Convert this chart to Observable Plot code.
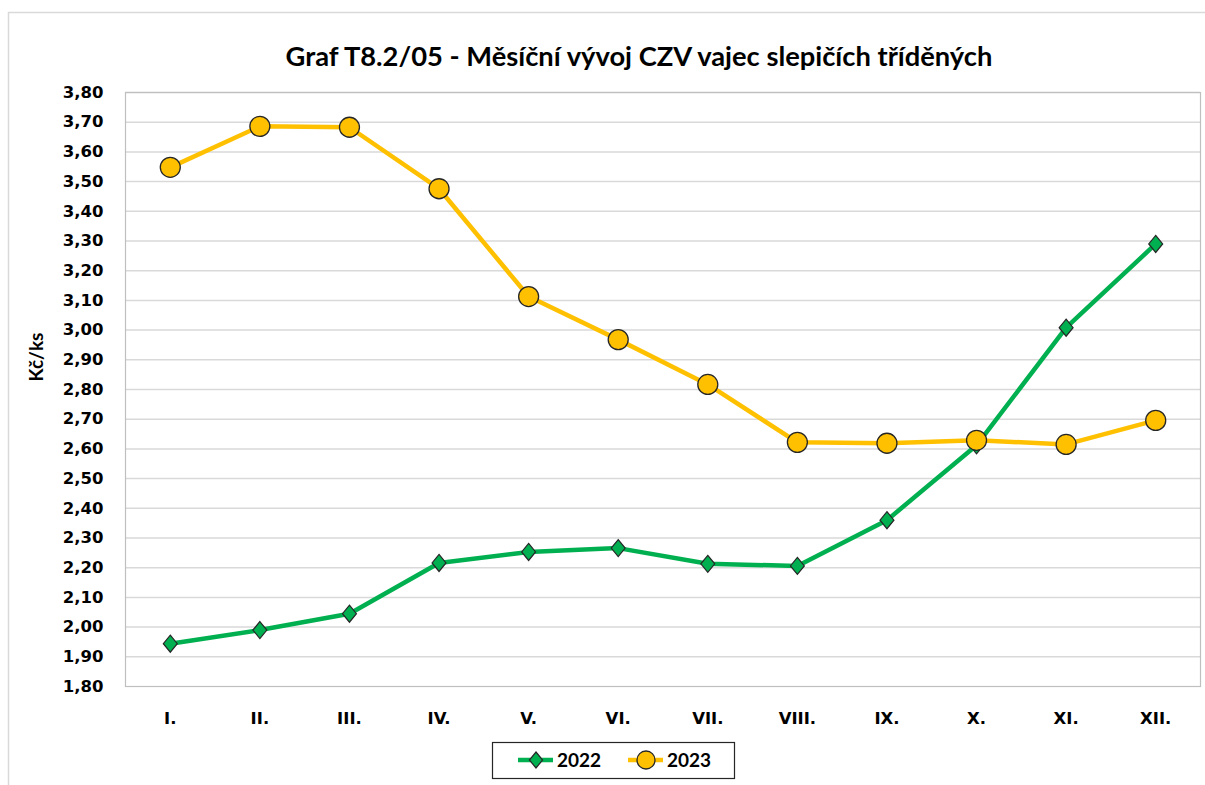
<!DOCTYPE html>
<html>
<head>
<meta charset="utf-8">
<script src="https://cdn.jsdelivr.net/npm/d3@7"></script>
<script src="https://cdn.jsdelivr.net/npm/@observablehq/plot@0.6"></script>
<style>
  html, body { margin: 0; padding: 0; background: #fff; }
  #wrap { position: relative; width: 1205px; height: 785px; overflow: hidden; }
  #wrap > svg { position: absolute; left: 0; top: 0; }
  #overlay { pointer-events: none; }
</style>
</head>
<body>
<div id="wrap"></div>
<script>
const months = ["I.", "II.", "III.", "IV.", "V.", "VI.", "VII.", "VIII.", "IX.", "X.", "XI.", "XII."];
const values2022 = [1.944, 1.99, 2.045, 2.216, 2.253, 2.266, 2.213, 2.206, 2.36, 2.612, 3.008, 3.29];
const values2023 = [3.548, 3.686, 3.683, 3.476, 3.113, 2.968, 2.817, 2.622, 2.619, 2.629, 2.615, 2.696];
const yTicks = [1.8, 1.9, 2.0, 2.1, 2.2, 2.3, 2.4, 2.5, 2.6, 2.7, 2.8, 2.9, 3.0, 3.1, 3.2, 3.3, 3.4, 3.5, 3.6, 3.7, 3.8];
const seriesNames = ["2022", "2023"];
const titleText = "Graf T8.2/05 - Měsíční vývoj CZV vajec slepičích tříděných";
const yLabel = "Kč/ks";

const green = "#00b050", yellow = "#ffc000", outline = "#262626";

const d2022 = months.map((m, i) => ({month: m, value: values2022[i]}));
const d2023 = months.map((m, i) => ({month: m, value: values2023[i]}));

// diamond a bit taller than wide, like Excel's marker
const diamond = {
  draw(ctx, size) {
    const r = Math.sqrt(size / Math.PI);
    const hw = r * 0.82, hh = r;
    ctx.moveTo(0, -hh); ctx.lineTo(hw, 0); ctx.lineTo(0, hh); ctx.lineTo(-hw, 0); ctx.closePath();
  }
};

const fmt = d => d.toFixed(2).replace(".", ",");
const axisFont = {fontFamily: "DejaVu Sans", fontWeight: "bold", fontSize: 16.5, fill: "#000"};

const chart = Plot.plot({
  width: 1205,
  height: 785,
  marginLeft: 125,
  marginRight: 5,
  marginTop: 92,
  marginBottom: 99,
  style: {background: "transparent", fontFamily: "DejaVu Sans", overflow: "visible"},
  x: {type: "point", domain: months, padding: 0.5, round: false},
  y: {domain: [1.8, 3.8]},
  marks: [
    Plot.ruleY(yTicks.slice(1), {stroke: "#d9d9d9", strokeWidth: 1.5}),
    Plot.frame({stroke: "#bfbfbf", strokeWidth: 1.2}),
    Plot.axisY(yTicks, {tickSize: 0, tickPadding: 22, tickFormat: fmt, ...axisFont, label: null}),
    Plot.axisX(months, {tickSize: 0, tickPadding: 26, ...axisFont, label: null}),
    Plot.lineY(d2022, {x: "month", y: "value", stroke: green, strokeWidth: 4.5}),
    Plot.dot(d2022, {x: "month", y: "value", symbol: diamond, r: 8.5, fill: green, stroke: outline, strokeWidth: 1.2}),
    Plot.lineY(d2023, {x: "month", y: "value", stroke: yellow, strokeWidth: 4.5}),
    Plot.dot(d2023, {x: "month", y: "value", r: 10, fill: yellow, stroke: outline, strokeWidth: 1.3})
  ]
});
document.getElementById("wrap").appendChild(chart);

// overlay: outer border, title, y label, legend
const ns = "http://www.w3.org/2000/svg";
const ov = d3.select("#wrap").append("svg").attr("id", "overlay")
  .attr("width", 1205).attr("height", 785).attr("xmlns", ns);

ov.append("rect").attr("x", 8.5).attr("y", 12.5).attr("width", 1300).attr("height", 800)
  .attr("fill", "none").attr("stroke", "#d9d9d9").attr("stroke-width", 1.5);

ov.append("text").attr("x", 639).attr("y", 66).attr("text-anchor", "middle")
  .attr("font-family", "Lato").attr("font-weight", "bold").attr("font-size", 27.3).attr("fill", "#000")
  .text(titleText);

ov.append("text").attr("transform", "translate(43,357) rotate(-90)").attr("text-anchor", "middle")
  .attr("font-family", "Lato").attr("font-weight", "bold").attr("font-size", 19).attr("fill", "#000")
  .text(yLabel);

const lg = ov.append("g");
lg.append("rect").attr("x", 492.5).attr("y", 742.5).attr("width", 242).attr("height", 36)
  .attr("fill", "#fff").attr("stroke", "#262626").attr("stroke-width", 1.2);
const legendItems = [
  {name: seriesNames[0], color: green, x0: 518, shape: "diamond"},
  {name: seriesNames[1], color: yellow, x0: 628, shape: "circle"}
];
legendItems.forEach(it => {
  lg.append("line").attr("x1", it.x0).attr("x2", it.x0 + 35).attr("y1", 760).attr("y2", 760)
    .attr("stroke", it.color).attr("stroke-width", 4.5);
  if (it.shape === "diamond") {
    const cx = it.x0 + 18, cy = 760;
    lg.append("path").attr("d", `M${cx},${cy-8}L${cx+6.6},${cy}L${cx},${cy+8}L${cx-6.6},${cy}Z`)
      .attr("fill", it.color).attr("stroke", outline).attr("stroke-width", 1.2);
  } else {
    lg.append("circle").attr("cx", it.x0 + 18).attr("cy", 760).attr("r", 9)
      .attr("fill", it.color).attr("stroke", outline).attr("stroke-width", 1.3);
  }
  lg.append("text").attr("x", it.x0 + 39).attr("y", 766.5)
    .attr("font-family", "Lato").attr("font-weight", "bold").attr("font-size", 19).attr("fill", "#000")
    .text(it.name);
});
</script>
</body>
</html>
